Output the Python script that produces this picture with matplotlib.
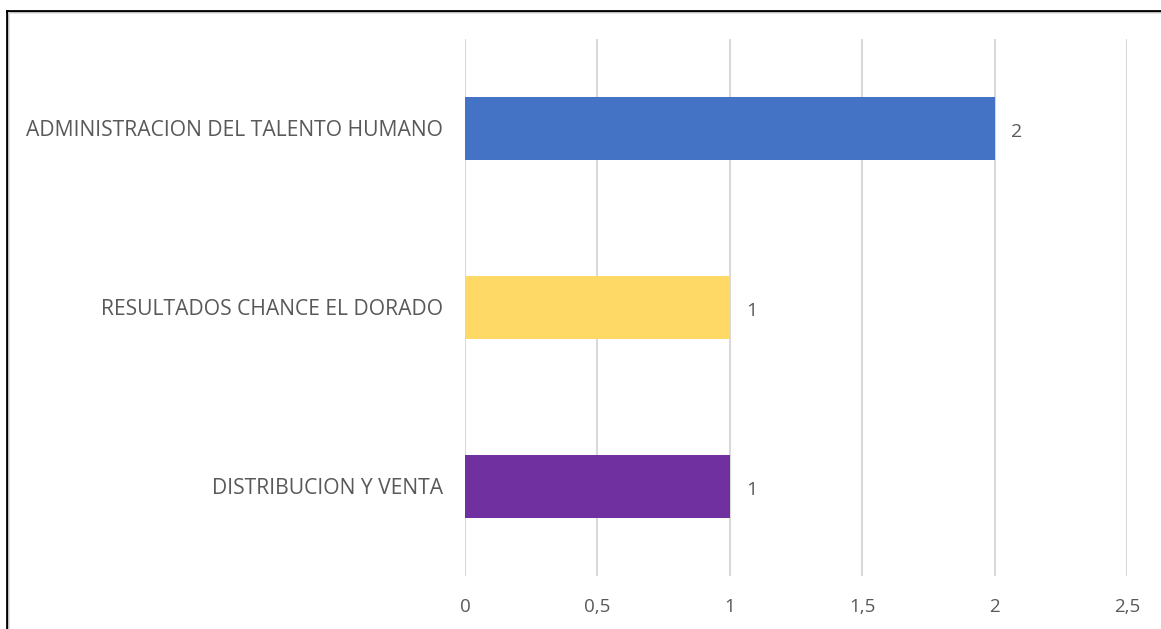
import matplotlib
matplotlib.use("Agg")
import matplotlib.pyplot as plt
from matplotlib.lines import Line2D

categories = ["ADMINISTRACION DEL TALENTO HUMANO", "RESULTADOS CHANCE EL DORADO", "DISTRIBUCION Y VENTA"]
values = [2, 1, 1]
colors = ["#4472C4", "#FFD966", "#7030A0"]
xticks = [0, 0.5, 1, 1.5, 2, 2.5]
xtick_labels = ["0", "0,5", "1", "1,5", "2", "2,5"]

plt.rcParams['font.family'] = ['Open Sans', 'DejaVu Sans']
text_color = "#595959"

fig = plt.figure(figsize=(11.61, 6.29), dpi=100)
ax = fig.add_axes([0.4005, 0.0843, 0.5702, 0.8537])

ypos = list(range(len(categories)))
ax.barh(ypos, values, height=0.35, color=colors, zorder=3)
for y, v in zip(ypos, values):
    ax.annotate(str(v), (v, y), xytext=(16, -4), textcoords="offset pixels",
                va="center", ha="left", fontsize=14, color=text_color)

ax.set_xlim(0, 2.5)
ax.set_ylim(2.5, -0.5)
ax.set_xticks(xticks)
ax.set_xticklabels(xtick_labels)
ax.set_yticks(ypos)
ax.set_yticklabels(categories)
ax.grid(axis="x", color="#D9D9D9", linewidth=1.5, zorder=0)
ax.set_axisbelow(True)
for s in ax.spines.values():
    s.set_visible(False)
ax.tick_params(axis="both", length=0, colors=text_color)
ax.tick_params(axis="x", pad=16, labelsize=13.5)
ax.tick_params(axis="y", pad=16, labelsize=15.2)

# figure border (left and top)
H = 629.0
W = 1161.0
fig.add_artist(Line2D([6.5 / W, 6.5 / W], [0, 1 - 10.5 / H], color="black", linewidth=2, transform=fig.transFigure))
fig.add_artist(Line2D([6.5 / W, 1], [1 - 10.5 / H, 1 - 10.5 / H], color="black", linewidth=2, transform=fig.transFigure))
fig.add_artist(Line2D([9 / W, 9 / W], [0, 1 - 12.5 / H], color="#E0E0E0", linewidth=1.2, transform=fig.transFigure))
fig.add_artist(Line2D([9 / W, 1], [1 - 13 / H, 1 - 13 / H], color="#E0E0E0", linewidth=1.2, transform=fig.transFigure))

fig.savefig("out.png", dpi=100, facecolor="white")
